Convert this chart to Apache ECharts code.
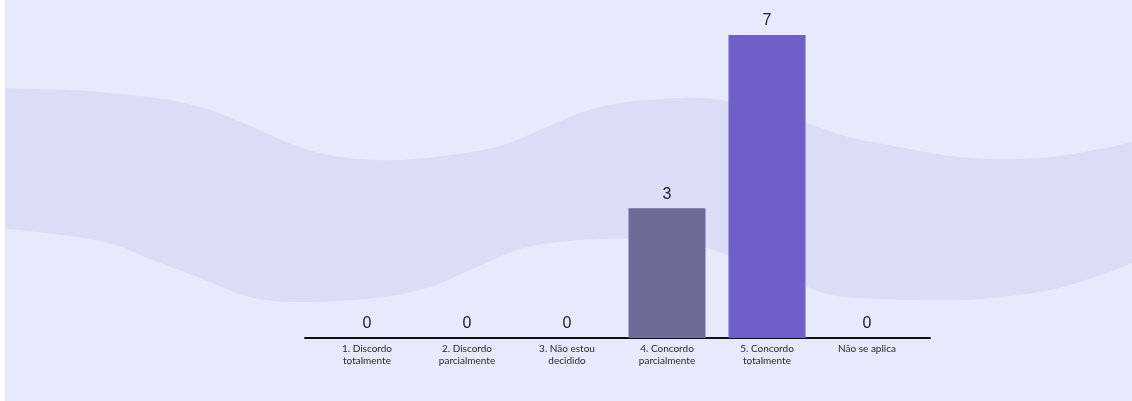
<!DOCTYPE html>
<html>
<head>
<meta charset="utf-8">
<script src="https://cdn.jsdelivr.net/npm/echarts@6/dist/echarts.min.js"></script>
<style>
  html, body { margin: 0; padding: 0; background: #ffffff; }
  #chart { position: absolute; left: 5px; top: 0; width: 1127px; height: 401px; }
</style>
</head>
<body>
<div id="chart"></div>
<script>
// Survey answers (Likert scale) and number of responses per option
const categories = [
  '1. Discordo\ntotalmente',
  '2. Discordo\nparcialmente',
  '3. Não estou\ndecidido',
  '4. Concordo\nparcialmente',
  '5. Concordo\ntotalmente',
  'Não se aplica'
];
const responses = [0, 0, 0, 3, 7, 0];
const barColors = ['#6e6b97', '#6e6b97', '#6e6b97', '#6e6b97', '#6f5fc8', '#6e6b97'];

// Decorative wave band behind the chart (page pixels): upper edge and lower edge, left to right
const waveTop = [[-60,87],[0,88],[100,92],[200,107],[300,147],[350,158],[400,160],[450,155],[500,146],[540,130],[580,113],[620,103],[680,98],[720,100],[780,114],[845,136],[900,147],[950,156],[1000,159],[1050,157],[1095,150],[1132,142],[1190,128]];
const waveBottom = [[-60,224],[0,228],[100,241],[150,259],[200,278],[250,297],[300,302],[375,298],[430,287],[470,270],[520,249],[560,242],[600,239],[650,240],[700,246],[750,264],[800,284],[845,297],[950,300],[1000,297],[1050,290],[1095,277],[1132,263],[1190,240]];

// Sample a Catmull-Rom spline through the given points into a dense polyline
function spline(pts, steps) {
  const out = [];
  for (let i = 0; i < pts.length - 1; i++) {
    const p0 = pts[Math.max(i - 1, 0)], p1 = pts[i], p2 = pts[i + 1], p3 = pts[Math.min(i + 2, pts.length - 1)];
    for (let s = 0; s < steps; s++) {
      const t = s / steps, t2 = t * t, t3 = t2 * t;
      const f = (a, b, c, d) => 0.5 * ((2 * b) + (-a + c) * t + (2 * a - 5 * b + 4 * c - d) * t2 + (-a + 3 * b - 3 * c + d) * t3);
      out.push([f(p0[0], p1[0], p2[0], p3[0]), f(p0[1], p1[1], p2[1], p3[1])]);
    }
  }
  out.push(pts[pts.length - 1]);
  return out;
}
const shift = p => [p[0] - 5, p[1]];
const bandPoints = spline(waveTop.map(shift), 16)
  .concat(spline(waveBottom.map(shift), 16).reverse());

const chart = echarts.init(document.getElementById('chart'), null, { renderer: 'canvas' });

chart.setOption({
  backgroundColor: '#e7e9fc',
  animation: false,
  graphic: [{
    type: 'polygon',
    z: -10,
    silent: true,
    shape: { points: bandPoints },
    style: { fill: '#dbdcf6' }
  }],
  grid: [
    // plot area holding the bars
    { left: 312, right: 215, top: 35, bottom: 63 },
    // slightly wider grid whose only visible part is the baseline
    { left: 300, right: 202, top: 35, bottom: 63 }
  ],
  xAxis: [{
    type: 'category',
    gridIndex: 0,
    data: categories,
    axisLine: { show: false },
    axisTick: { show: false },
    axisLabel: {
      interval: 0,
      margin: 5,
      color: '#2a2a2a',
      fontFamily: 'Lato, "Noto Sans", sans-serif',
      fontSize: 10,
      lineHeight: 12
    }
  }, {
    type: 'value',
    gridIndex: 1,
    min: 0,
    max: 1,
    axisLine: { show: true, onZero: false, lineStyle: { color: '#111111', width: 2 } },
    axisTick: { show: false },
    axisLabel: { show: false },
    splitLine: { show: false }
  }],
  yAxis: [{
    type: 'value',
    gridIndex: 0,
    min: 0,
    max: 7,
    show: false,
    splitLine: { show: false }
  }, {
    type: 'value',
    gridIndex: 1,
    min: 0,
    max: 1,
    show: false,
    splitLine: { show: false }
  }],
  series: [{
    type: 'bar',
    xAxisIndex: 0,
    yAxisIndex: 0,
    data: responses.map((v, i) => ({ value: v, itemStyle: { color: barColors[i] } })),
    barCategoryGap: '23%',
    z: 3,
    label: {
      show: true,
      position: 'top',
      distance: 6,
      color: '#222222',
      fontFamily: '"Liberation Sans", Arial, sans-serif',
      fontSize: 16
    }
  }]
});
</script>
</body>
</html>
